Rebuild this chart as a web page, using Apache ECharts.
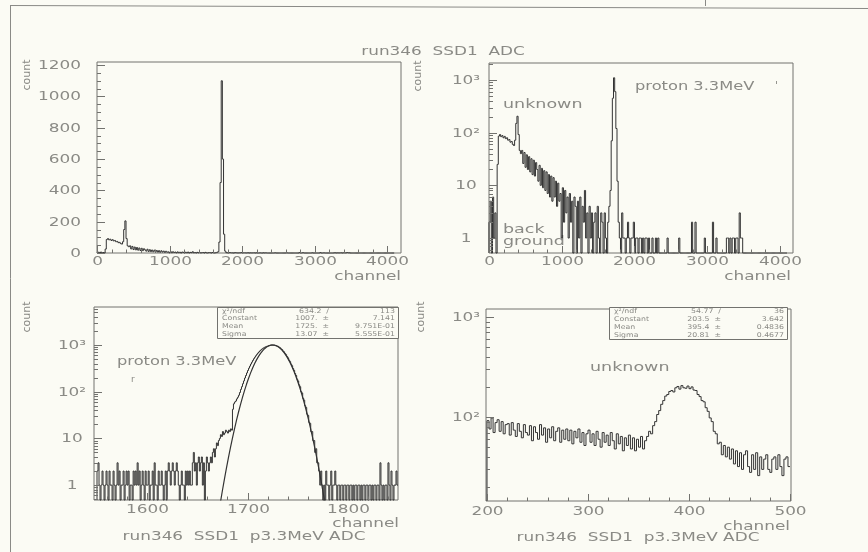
<!DOCTYPE html>
<html><head><meta charset="utf-8">
<script src="https://cdn.jsdelivr.net/npm/echarts@6/dist/echarts.min.js"></script>
<style>html,body{margin:0;padding:0;background:#fbfbf4;}#c{width:868px;height:552px;}</style>
</head><body><div id="c"></div>
<script>
// ---------------- DATA ----------------
// Full ADC spectrum, 16-channel bins starting at channel 0 (panels 1 & 2)
const spectrumBinWidth = 16;
const spectrumCounts = [
 2,5,0,6,1,3,0,25,
 86,92,84,88,80,85,77,80,72,74,66,68,60,57,
 72,150,205,92,46,40,
 46,26,42,22,38,20,35,18,32,16,30,15,27,
 20,12,24,10,21,9,19,8,18,7,16,6,15,5,14,6,12,4,11,5,
 7,1,9,2,8,3,6,1,7,2,5,0,6,4,0,5,1,6,0,4,2,8,1,
 3,0,4,1,3,0,2,3,0,4,1,0,3,2,0,3,1,0,2,4,
 8,70,450,1100,600,120,12,2,
 1,0,3,1,1,0,1,2,1,0, 1,1,2,0,1,1,0,1,1,0, 1,0,1,1,0,1,0,0,1,0, 0,1,0,1,0,0,
 0,0,0,0,0,1,0,0,0,0,
 0,0,0,0,0,1,0,0,0,0,
 0,0,0,0,0,0,2,0,0,2,
 0,0,0,0,0,0,0,1,0,0,
 0,0,0,0,2,0,0,1,0,0,
 0,0,0,0,0,0,1,1,0,1,
 0,1,1,0,1,1,0,3,1,1,
 0,0,0,0,0,0,0,0,0,0,
 0,0,0,0,0,0,0,0,0,0,
 0,0,0,0,0,0,0,0,0,0,
 0,0,0,0,0,0,0,0
];

// Proton peak, 1-channel bins from channel 1550 (panel 3)
const peakStart = 1550;
const peakCounts = [
 2,3,1,0,1,2,1,0,1,2,
 1,0,2,1,1,0,2,1,0,1,
 3,1,2,0,1,1,2,0,1,2,
 1,2,0,1,1,0,2,1,2,1,
 3,1,2,0,1,2,1,0,2,1,
 1,2,0,1,1,2,0,3,1,1,
 0,2,1,1,2,1,0,1,2,0,
 2,3,2,1,2,3,2,1,2,3,
 2,1,0,1,2,1,1,0,2,1,
 2,1,2,1,1,3,5,2,3,1,
 3,4,2,3,4,1,3,0,2,4,
 3,2,3,4,3,5,6,4,6,8,
 7,9,10,12,11,14,12,13,15,14,
 13,15,14,16,15,42,55,60,63,70,
 76,84,96,112,128,148,170,196,222,252,
 284,318,352,390,428,468,508,548,588,630,
 670,708,746,782,816,846,874,898,918,936,
 950,966,980,992,1002,998,990,982,968,950,
 935,896,872,826,798,744,712,655,620,566,
 530,474,440,390,360,312,286,244,222,186,
 170,140,128,100,94,72,66,50,46,33,
 31,22,21,14,14,9,9,5,6,3,
 3,2,1,2,1,0,1,0,2,1,
 1,0,1,2,0,1,1,2,1,0,
 1,1,0,1,1,0,1,1,0,1,
 1,0,1,1,0,1,0,1,1,0,
 1,1,0,1,0,1,1,0,1,1,
 0,1,1,0,1,0,1,1,0,1,
 1,0,3,1,0,1,0,1,1,0,
 3,1,0,2,1,0,1,1,2,1
];

const fitChannels = [1671,1673,1675,1677,1679,1681,1683,1685,1687,1689,1691,1693,1695,1697,1699,1701,1703,1705,1707,1709,1711,1713,1715,1717,1719,1721,1723,1725,
 1727,1729,1731,1733,1735,1737,1739,1741,1743,1745,1747,1749,1751,1753,1755,1757,1759,1761,1763,1765,1767,1769,1771,1773,1775,1777,1779];
const fitValues = [0.232,0.427,0.767,1.34,2.31,3.87,6.34,10.14,15.87,24.27,36.27,52.98,75.56,105.4,143.8,191.5,249.4,317.3,394.7,479.7,569.9,661.5,750.5,832.2,901.8,955.1,988.6,1000,
 988.6,955.1,901.8,832.2,750.5,661.5,569.9,479.7,394.7,317.3,249.4,191.5,143.8,105.4,75.56,52.98,36.27,24.27,15.87,10.14,6.34,3.87,2.31,1.34,0.767,0.427,0.232];

// "unknown" bump, 2-channel bins from channel 200 (panel 4)
const unknownStart = 200;
const unknownBinWidth = 2;
const unknownCounts = [
 92,76,98,70,88,94,72,90,68,84,
 86,66,88,74,64,86,72,62,84,70,
 66,82,58,80,70,60,84,66,78,56,
 76,62,80,58,72,78,56,74,60,76,
 58,74,54,72,62,76,56,70,52,68,
 74,56,68,52,72,60,50,70,56,66,
 52,70,58,48,68,54,64,46,62,52,
 66,48,62,46,60,50,64,48,58,64,
 72,68,82,90,106,116,134,146,162,168,
 180,184,178,196,202,190,206,196,194,204,
 192,200,186,184,168,160,146,142,124,114,
 98,90,72,68,54,56,42,52,40,50,
 38,48,34,46,32,44,30,42,46,32,
 28,42,30,44,26,40,30,38,42,30,
 28,38,40,30,42,32,26,38,40,32
];

// Tick labels
const fullXTicks = [0,1000,2000,3000,4000];
const linYTicks = [0,200,400,600,800,1000,1200];
const peakXTicks = [1600,1700,1800];
const unknownXTicks = [200,300,400,500];
const logYTicks = [1,10,100,1000];
const logYLabels = ['1','10','10²','10³'];

// ---------------- STYLE / LAYOUT ----------------
const FONT = '"DejaVu Sans", sans-serif';
const TXT = '#8a8a85';
const LINE = '#333333';
const FRAME = '#72726e';
const SX = 1.35;

const panels = [
  {left:97, top:62, width:304, height:191, xMin:0, xMax:4190, yMin:0, yMax:1220, log:false},
  {left:489, top:63, width:304, height:190, xMin:0, xMax:4180, yMin:0.52, yMax:2100, log:true},
  {left:94, top:307, width:304, height:193, xMin:1547, xMax:1850, yMin:0.48, yMax:6500, log:true},
  {left:486, top:309, width:305, height:192, xMin:199, xMax:501, yMin:14.5, yMax:1200, log:true}
];

function txt(x, y, s, align, size, sx, extra) {
  return Object.assign({type:'text', x:x, y:y, scaleX: sx == null ? SX : sx, silent:true,
    style:{text:s, fill:TXT, font:(size||12.5)+'px '+FONT, align:align||'left', verticalAlign:'middle',
      textAlign:align||'left', textVerticalAlign:'middle'}}, extra||{});
}

// ----- tick descriptors -----
function logMinorTicks(lo, hi) {
  const out = [];
  for (let e = -1; e <= 4; e++) for (let m = 2; m <= 9; m++) {
    const v = m * Math.pow(10, e);
    if (v > lo && v < hi) out.push(v);
  }
  return out;
}
function buildTicks(pi) {
  const p = panels[pi];
  const t = [];
  let xMaj, xMinStep;
  if (pi < 2) { xMaj = fullXTicks; xMinStep = 200; }
  else if (pi === 2) { xMaj = peakXTicks; xMinStep = 20; }
  else { xMaj = unknownXTicks; xMinStep = 20; }
  const xLabDy = [9, 9, 10, 11][pi];
  xMaj.forEach(v => t.push({axis:'x', v:v, len:7, label:String(v), dy:xLabDy}));
  const start = Math.ceil(p.xMin / xMinStep) * xMinStep;
  for (let v = start; v <= p.xMax; v += xMinStep) if (xMaj.indexOf(v) < 0) t.push({axis:'x', v:v, len:3.5});
  if (!p.log) {
    linYTicks.forEach(v => t.push({axis:'y', v:v, len:8, label:String(v), align:'right', dx:-16}));
    for (let v = 50; v < p.yMax; v += 50) if (v % 200) t.push({axis:'y', v:v, len:4});
  } else {
    const dx = [0, -23, -22, -20][pi];
    logYTicks.forEach((v, i) => { if (v >= p.yMin && v <= p.yMax) t.push({axis:'y', v:v, len:8, label:logYLabels[i], align:'center', dx:dx}); });
    logMinorTicks(p.yMin, p.yMax).forEach(v => t.push({axis:'y', v:v, len:4}));
  }
  return t;
}

function tickSeries(pi) {
  const p = panels[pi];
  const items = buildTicks(pi);
  return {
    type:'custom', xAxisIndex:pi, yAxisIndex:pi, silent:true, z:5, animation:false,
    data: items.map(t => t.axis === 'x' ? [t.v, p.yMin] : [p.xMin, t.v]),
    renderItem: function (params, api) {
      const t = items[params.dataIndex];
      const cs = params.coordSys;
      const pt = api.coord([api.value(0), api.value(1)]);
      const ch = [];
      if (t.axis === 'x') {
        const x = Math.round(pt[0]) + 0.5, yb = cs.y + cs.height;
        ch.push({type:'line', shape:{x1:x, y1:yb, x2:x, y2:yb - t.len}, style:{stroke:FRAME, lineWidth:1}});
        if (t.label != null) ch.push(txt(x, yb + t.dy, t.label, 'center'));
      } else {
        const y = Math.round(pt[1]) + 0.5, xl = cs.x;
        ch.push({type:'line', shape:{x1:xl, y1:y, x2:xl + t.len, y2:y}, style:{stroke:FRAME, lineWidth:1}});
        if (t.label != null) ch.push(txt(xl + t.dx, y, t.label, t.align));
      }
      return {type:'group', children:ch};
    }
  };
}

function histSeries(pi, startCh, width, counts) {
  const p = panels[pi];
  const data = counts.map((c, i) => [startCh + i * width, c, startCh + (i + 1) * width, i > 0 ? counts[i - 1] : 0]);
  return {
    type:'custom', xAxisIndex:pi, yAxisIndex:pi, silent:true, z:4, animation:false,
    data: data,
    renderItem: function (params, api) {
      const cs = params.coordSys;
      const top = cs.y, bottom = cs.y + cs.height, L = cs.x, R = cs.x + cs.width;
      const x0 = api.value(0), v = api.value(1), x1 = api.value(2), pv = api.value(3);
      const ref = p.log ? 1 : 0;
      const clampX = x => Math.max(L, Math.min(R, x));
      const yOf = val => {
        if (p.log && val <= 0) return bottom;
        const y = api.coord([x0, val])[1];
        return Math.max(top, Math.min(bottom, y));
      };
      const px0 = clampX(api.coord([x0, ref])[0]);
      const px1 = clampX(api.coord([x1, ref])[0]);
      const yp = yOf(pv), yv = yOf(v);
      return {type:'polyline', shape:{points:[[px0, yp], [px0, yv], [px1, yv]]},
        style:{stroke:LINE, fill:null, lineWidth:1}};
    }
  };
}

// ---------------- OPTION ----------------
const chart = echarts.init(document.getElementById('c'), null, {width:868, height:552});

const grids = panels.map(p => ({left:p.left, top:p.top, width:p.width, height:p.height,
  show:true, borderColor:FRAME, borderWidth:1, backgroundColor:'transparent', containLabel:false}));
const xAxes = panels.map((p, i) => ({type:'value', gridIndex:i, min:p.xMin, max:p.xMax, show:false}));
const yAxes = panels.map((p, i) => p.log
  ? {type:'log', logBase:10, gridIndex:i, min:p.yMin, max:p.yMax, show:false}
  : {type:'value', gridIndex:i, min:p.yMin, max:p.yMax, show:false});

const series = [
  histSeries(0, 0, spectrumBinWidth, spectrumCounts),
  histSeries(1, 0, spectrumBinWidth, spectrumCounts),
  histSeries(2, peakStart, 1, peakCounts),
  histSeries(3, unknownStart, unknownBinWidth, unknownCounts),
  {type:'line', xAxisIndex:2, yAxisIndex:2, data:fitChannels.map((c, i) => [c, fitValues[i]]),
   showSymbol:false, smooth:false, clip:true, z:4, silent:true,
   lineStyle:{color:LINE, width:1.2}},
  tickSeries(0), tickSeries(1), tickSeries(2), tickSeries(3)
];

function statBox(x, y, w, h, rows, col2) {
  const els = [{type:'rect', shape:{x:x + 0.5, y:y + 0.5, width:w, height:h}, style:{fill:'#fbfbf4', stroke:FRAME, lineWidth:1}, z:10}];
  const rh = h / rows.length;
  rows.forEach((r, i) => {
    const cy = y + rh * (i + 0.5);
    els.push(txt(x + 5, cy, r[0], 'left', 6.5, 1.2, {z:11}));
    if (r[1]) els.push(txt(x + col2, cy, r[1], 'right', 6.5, 1.2, {z:11}));
    if (r[2]) els.push(txt(x + w - 3, cy, r[2], 'right', 6.5, 1.2, {z:11}));
  });
  return els;
}

const graphics = [
  {type:'line', shape:{x1:10.5, y1:5, x2:10.5, y2:552}, style:{stroke:'#8a8a86', lineWidth:1}},
  {type:'line', shape:{x1:10, y1:5.5, x2:868, y2:8.5}, style:{stroke:'#8a8a86', lineWidth:1}},
  {type:'line', shape:{x1:705.5, y1:0, x2:705.5, y2:6}, style:{stroke:'#8a8a86', lineWidth:1}},
  txt(443, 52, 'run346  SSD1  ADC', 'center'),
  txt(244, 537, 'run346  SSD1  p3.3MeV ADC', 'center'),
  txt(638, 538, 'run346  SSD1  p3.3MeV ADC', 'center'),
  txt(401, 277, 'channel', 'right'),
  txt(791, 277, 'channel', 'right'),
  txt(399, 524, 'channel', 'right'),
  txt(790, 527, 'channel', 'right'),
  txt(27, 75, 'count', 'center', 11, 1, {rotation:Math.PI / 2}),
  txt(418, 76, 'count', 'center', 11, 1, {rotation:Math.PI / 2}),
  txt(27, 317, 'count', 'center', 11, 1, {rotation:Math.PI / 2}),
  txt(421, 317, 'count', 'center', 11, 1, {rotation:Math.PI / 2}),
  txt(503, 105, 'unknown', 'left', 12.5, 1.4),
  txt(635, 87, 'proton 3.3MeV', 'left', 12.5, 1.3),
  txt(775, 86, "'", 'left', 11, 1),
  txt(503, 230, 'back', 'left', 12.5, 1.4),
  txt(503, 242, 'ground', 'left', 12.5, 1.4),
  txt(117, 362, 'proton 3.3MeV', 'left', 12.5, 1.3),
  txt(131, 380, 'r', 'left', 9, 1),
  txt(590, 368, 'unknown', 'left', 12.5, 1.4)
].concat(
  statBox(217, 307, 181, 31, [['χ²/ndf', '634.2  /', '113'], ['Constant', '1007.  ±', '7.141'], ['Mean', '1725.  ±', '9.751E-01'], ['Sigma', '13.07  ±', '5.555E-01']], 112),
  statBox(609, 307, 178, 32, [['χ²/ndf', '54.77  /', '36'], ['Constant', '203.5  ±', '3.642'], ['Mean', '395.4  ±', '0.4836'], ['Sigma', '20.81  ±', '0.4677']], 112)
);

chart.setOption({
  animation:false,
  backgroundColor:'#fbfbf4',
  grid:grids, xAxis:xAxes, yAxis:yAxes,
  series:series,
  graphic:{elements:graphics}
});
</script>
</body></html>
